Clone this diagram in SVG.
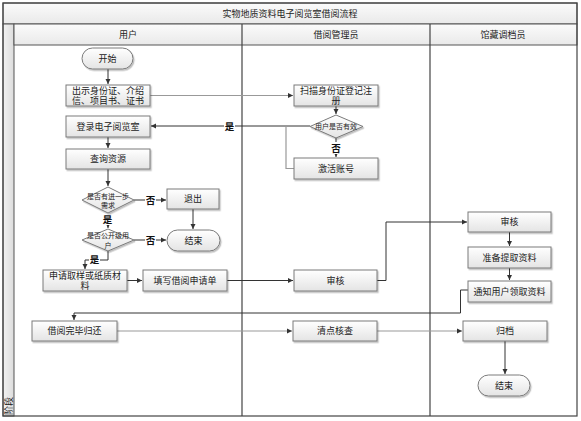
<svg xmlns="http://www.w3.org/2000/svg" width="581" height="421" viewBox="0 0 581 421">
<defs>
<linearGradient id="g" x1="0" y1="0" x2="0" y2="1"><stop offset="0" stop-color="#ffffff"/><stop offset="1" stop-color="#e4e4e4"/></linearGradient>
<linearGradient id="hg" x1="0" y1="0" x2="0" y2="1"><stop offset="0" stop-color="#fbfbfb"/><stop offset="1" stop-color="#e9e9e9"/></linearGradient>
<linearGradient id="sg" x1="0" y1="0" x2="1" y2="0"><stop offset="0" stop-color="#f2f2f2"/><stop offset="1" stop-color="#dcdcdc"/></linearGradient>
<marker id="a" markerWidth="6" markerHeight="6" refX="5" refY="3" orient="auto" markerUnits="userSpaceOnUse"><path d="M0,0.5 L5,3 L0,5.5 z" fill="#333"/></marker>
<filter id="sh" x="-10%" y="-10%" width="130%" height="140%"><feDropShadow dx="1.2" dy="1.5" stdDeviation="0.6" flood-color="#000" flood-opacity="0.25"/></filter>
</defs>
<style>
text{font-family:"Liberation Sans","Noto Sans CJK SC",sans-serif;font-size:9px;fill:#222;text-anchor:middle;dominant-baseline:central}
.sm{font-size:7px}
.lb{font-weight:bold;font-size:9.5px;fill:#111}
.box{fill:url(#g);stroke:#7a7a7a;stroke-width:1;filter:url(#sh)}
.ln{fill:none;stroke:#333;stroke-width:1}
.lg{fill:none;stroke:#999;stroke-width:1.2}
.ar{marker-end:url(#a)}
.frame{fill:none;stroke:#444;stroke-width:1.2}
</style>
<rect x="0" y="0" width="581" height="421" fill="#fff"/>
<g id="frame">
<rect x="3" y="3" width="574" height="21" fill="url(#hg)" stroke="#555"/>
<rect x="3" y="24" width="11" height="392" fill="url(#sg)" stroke="#555"/>
<rect x="14" y="24" width="563" height="21" fill="url(#hg)" stroke="#555"/>
<rect x="3" y="3" width="574" height="413" class="frame"/>
<line x1="242" y1="24" x2="242" y2="416" stroke="#444" stroke-width="1.2"/>
<line x1="430" y1="24" x2="430" y2="416" stroke="#444" stroke-width="1.2"/>
<text x="290" y="14">实物地质资料电子阅览室借阅流程</text>
<text x="128" y="34.5">用户</text>
<text x="336" y="34.5">借阅管理员</text>
<text x="503" y="34.5">馆藏调档员</text>
<text x="8.5" y="406" font-size="8" transform="rotate(-90 8.5 406)">阶段</text>
</g>
<g id="connectors">
<path class="ln ar" d="M108,69 V84"/>
<path class="lg ar" d="M150,95.5 H293"/>
<path class="ln ar" d="M336,106 V114"/>
<path class="ln ar" d="M336,138 V157"/>
<path class="ln ar" d="M310,126 H151"/>
<path class="lg" d="M294,168.5 H286 V126"/>
<path class="ln ar" d="M108,137 V148"/>
<path class="ln ar" d="M108,169 V186"/>
<path class="ln ar" d="M134,200 H166"/>
<path class="ln ar" d="M108,213 V228"/>
<path class="ln ar" d="M193,209 V229"/>
<path class="ln ar" d="M134,240 H166"/>
<path class="ln ar" d="M108,251 V260 H85 V269"/>
<path class="ln ar" d="M127,280.5 H142"/>
<path class="ln ar" d="M227,280.5 H293"/>
<path class="ln ar" d="M377,280.5 H386 V222 H467"/>
<path class="ln ar" d="M509.5,232 V246"/>
<path class="ln ar" d="M509.5,268 V280"/>
<path class="ln" d="M468,290 H460.5 V313"/>
<path class="ln ar" d="M460.5,313 H74 V320"/>
<path class="lg ar" d="M117,331 H292"/>
<path class="lg ar" d="M377,331 H462"/>
<path class="ln ar" d="M505,341 V374"/>
<rect x="224" y="120" width="11" height="12" fill="#fff"/>
<text class="lb" x="229.5" y="126">是</text>
<rect x="331" y="142" width="10" height="12" fill="#fff"/>
<text class="lb" x="336" y="148">否</text>
<rect x="145" y="194" width="11" height="12" fill="#fff"/>
<text class="lb" x="150.5" y="200">否</text>
<rect x="102" y="213" width="11" height="12" fill="#fff"/>
<text class="lb" x="107.5" y="219">是</text>
<rect x="145" y="234" width="11" height="12" fill="#fff"/>
<text class="lb" x="150.5" y="240">否</text>
<rect x="89" y="253" width="11" height="12" fill="#fff"/>
<text class="lb" x="94.5" y="259">是</text>
</g>
<g id="n_start">
<rect class="box" x="82" y="48" width="51" height="21" rx="10.5"/>
<text x="107.5" y="58.5">开始</text>
</g>
<g id="n_show">
<rect class="box" x="66" y="85" width="84" height="21"/>
<text x="108" y="91">出示身份证、介绍</text>
<text x="108" y="101">信、项目书、证书</text>
</g>
<g id="n_login">
<rect class="box" x="66" y="116" width="84" height="21"/>
<text x="108" y="126.5">登录电子阅览室</text>
</g>
<g id="n_query">
<rect class="box" x="66" y="149" width="84" height="20"/>
<text x="108" y="159">查询资源</text>
</g>
<g id="n_d1">
<polygon class="box" points="108,187 134,200 108,213 82,200"/>
<text class="sm" x="108" y="196">是否有进一步</text>
<text class="sm" x="108" y="205">需求</text>
</g>
<g id="n_exit">
<rect class="box" x="167" y="189" width="52" height="20"/>
<text x="193" y="199">退出</text>
</g>
<g id="n_d2">
<polygon class="box" points="108,229 134,240 108,251 82,240"/>
<text class="sm" x="108" y="235">是否公开级用</text>
<text class="sm" x="108" y="245">户</text>
</g>
<g id="n_end1">
<rect class="box" x="167" y="230" width="53" height="21" rx="10.5"/>
<text x="193.5" y="240.5">结束</text>
</g>
<g id="n_apply">
<rect class="box" x="43" y="270" width="84" height="21"/>
<text x="85" y="276">申请取样或纸质材</text>
<text x="85" y="286">料</text>
</g>
<g id="n_fill">
<rect class="box" x="143" y="270" width="84" height="21"/>
<text x="185" y="280.5">填写借阅申请单</text>
</g>
<g id="n_scan">
<rect class="box" x="294" y="85" width="84" height="21"/>
<text x="336" y="91">扫描身份证登记注</text>
<text x="336" y="101">册</text>
</g>
<g id="n_valid">
<polygon class="box" points="336,115 363,126.5 336,138 310,126.5"/>
<text class="sm" x="336" y="126.5">用户是否有效</text>
</g>
<g id="n_activate">
<rect class="box" x="294" y="158" width="84" height="21"/>
<text x="336" y="168.5">激活账号</text>
</g>
<g id="n_audit1">
<rect class="box" x="294" y="270" width="83" height="21"/>
<text x="335.5" y="280.5">审核</text>
</g>
<g id="n_audit2">
<rect class="box" x="468" y="212" width="83" height="20"/>
<text x="509.5" y="222">审核</text>
</g>
<g id="n_prepare">
<rect class="box" x="468" y="247" width="83" height="21"/>
<text x="509.5" y="257.5">准备提取资料</text>
</g>
<g id="n_notify">
<rect class="box" x="468" y="281" width="83" height="21"/>
<text x="509.5" y="291.5">通知用户领取资料</text>
</g>
<g id="n_return">
<rect class="box" x="32" y="321" width="85" height="20"/>
<text x="74.5" y="331">借阅完毕归还</text>
</g>
<g id="n_check">
<rect class="box" x="293" y="321" width="84" height="20"/>
<text x="335" y="331">清点核查</text>
</g>
<g id="n_archive">
<rect class="box" x="463" y="321" width="84" height="20"/>
<text x="505" y="331">归档</text>
</g>
<g id="n_end2">
<rect class="box" x="478" y="375" width="52" height="21" rx="10.5"/>
<text x="504" y="385.5">结束</text>
</g>
</svg>
